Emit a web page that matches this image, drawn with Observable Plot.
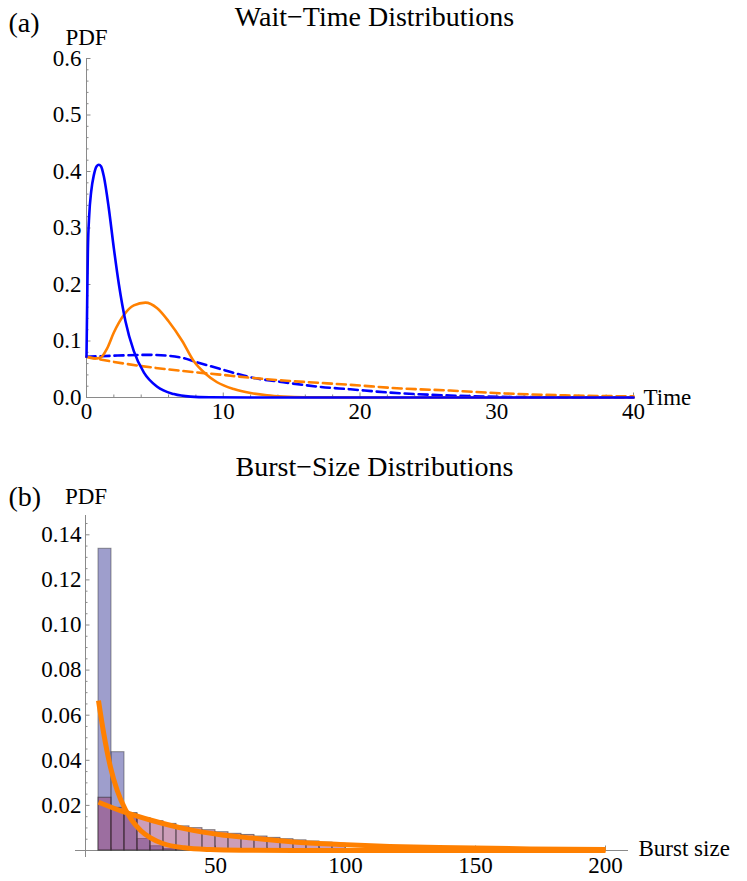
<!DOCTYPE html>
<html><head><meta charset="utf-8">
<script src="https://cdn.jsdelivr.net/npm/d3@7"></script>
<script src="https://cdn.jsdelivr.net/npm/@observablehq/plot@0.6"></script>
<style>
body{margin:0;background:#fff;}
#wrap{width:747px;}
#wrap svg{display:block;}
</style></head><body><div id="wrap"></div>
<script>
// ---------- Panel (a): wait-time distributions ----------
const blueSolidT = [0, 0.05, 0.1, 0.2, 0.34, 0.54, 0.73, 0.9, 1.07, 1.27, 1.63, 2.0, 2.37, 2.85, 3.46, 4.2, 5.17, 6.39, 7.6, 9, 12, 20, 40];
const blueSolidV = [0.072, 0.17, 0.259, 0.323, 0.364, 0.394, 0.409, 0.412, 0.409, 0.391, 0.335, 0.264, 0.2, 0.135, 0.082, 0.044, 0.019, 0.006, 0.0015, 0.0004, 0, 0, 0];

const orangeSolidT = [0, 0.54, 1.02, 1.51, 2.0, 2.73, 3.46, 4.31, 5.17, 6.0, 7.0, 7.85, 8.7, 9.55, 10.77, 12, 13.2, 14.4, 16, 20, 40];
const orangeSolidV = [0.072, 0.069, 0.0705, 0.087, 0.115, 0.146, 0.163, 0.168, 0.158, 0.135, 0.1, 0.064, 0.042, 0.027, 0.015, 0.008, 0.004, 0.0018, 0.0005, 0, 0];

const blueDashT = [0, 2.0, 4.68, 6.87, 8.09, 10, 12, 14.4, 17, 19.3, 22, 26.6, 30.3, 35, 40];
const blueDashV = [0.072, 0.074, 0.0755, 0.071, 0.0623, 0.049, 0.0358, 0.027, 0.019, 0.0145, 0.009, 0.0035, 0.0012, 0.0003, 0];

const orangeDashT = [0, 2.0, 4.68, 7.0, 9.55, 12, 14.4, 17, 19.3, 23, 26.6, 30.3, 35, 40];
const orangeDashV = [0.072, 0.063, 0.0535, 0.047, 0.041, 0.035, 0.030, 0.026, 0.0224, 0.016, 0.0123, 0.0075, 0.0038, 0.002];

const topXTicks = [0, 10, 20, 30, 40];
const topYTicks = [0, 0.1, 0.2, 0.3, 0.4, 0.5, 0.6];

// ---------- Panel (b): burst-size distributions ----------
const binStart = [5, 10, 15, 20, 25, 30, 35, 40, 45, 50, 55, 60, 65, 70, 75, 80, 85, 90, 95];
const blueHist = [0.1338, 0.0436, 0.0166, 0.0051, 0.0019, 0.0007, 0.0003];
const pinkHist = [0.0234, 0.0189, 0.0163, 0.0144, 0.0130, 0.0118, 0.0107, 0.0099, 0.0090, 0.0081, 0.0074, 0.0069, 0.0062, 0.0056, 0.0050, 0.0045, 0.0040, 0.0035, 0.0030];
const binWidth = 5;

const fitSteepB = [5, 7, 9.6, 12.2, 15.4, 17.9, 21.2, 25, 30, 38, 48, 60, 80, 120, 200];
const fitSteepV = [0.0665, 0.052, 0.037, 0.0266, 0.0180, 0.0133, 0.0089, 0.0056, 0.003, 0.0012, 0.0004, 0.0001, 0, 0, 0];

const fitSlowB = [5, 15, 25.6, 38.5, 51.3, 64, 80, 98, 117, 136, 171, 200];
const fitSlowV = [0.0214, 0.017, 0.0133, 0.0096, 0.0071, 0.0055, 0.0038, 0.0027, 0.0018, 0.0013, 0.0007, 0.0004];

const botXTicks = [50, 100, 150, 200];
const botYTicks = [0.02, 0.04, 0.06, 0.08, 0.10, 0.12, 0.14];

// ---------- helpers ----------
const zip = (xs, ys, kx, ky) => xs.map((x, i) => ({[kx]: x, [ky]: ys[i]}));
const FONT = "Liberation Serif, Times New Roman, serif";
const AX = "#8a8a8a";
const W = 747;
const ORANGE = "#ff8000", BLUE = "#0000ff";
const LBL = 23, TTL = 28, TAG = 28;

// ---------- Plot (a) ----------
{
  const H = 435, mL = 86, mR = 114, mT = 58, mB = 38;
  const fw = W - mL - mR, fh = H - mT - mB;
  const xMinor = d3.range(2, 40, 2).filter(d => d % 10 !== 0);
  const yMinor = d3.range(1, 30).map(i => i * 0.02).filter((d, i) => (i + 1) % 5 !== 0);
  const tk = (len) => ({insetTop: fh - len});
  const tkY = (len) => ({insetRight: fw - len});
  const txt = {fontFamily: FONT, fill: "black", lineAnchor: "middle"};
  const p = Plot.plot({
    width: W, height: H, marginLeft: mL, marginRight: mR, marginTop: mT, marginBottom: mB,
    x: {domain: [0, 40], axis: null},
    y: {domain: [0, 0.6], axis: null},
    style: {background: "white", overflow: "visible", fontFamily: FONT},
    marks: [
      Plot.ruleY([0], {stroke: AX, strokeWidth: 1}),
      Plot.ruleX([0], {stroke: AX, strokeWidth: 1}),
      Plot.tickX(xMinor, {x: d => d, stroke: AX, ...tk(2.5)}),
      Plot.tickX(topXTicks.slice(1), {x: d => d, stroke: AX, ...tk(4.5)}),
      Plot.tickY(yMinor, {y: d => d, stroke: AX, ...tkY(2.5)}),
      Plot.tickY(topYTicks.slice(1), {y: d => d, stroke: AX, ...tkY(4.5)}),
      Plot.line(zip(blueDashT, blueDashV, "t", "v"), {x: "t", y: "v", stroke: BLUE, strokeWidth: 2.6, strokeDasharray: "9,5", curve: "monotone-x"}),
      Plot.line(zip(orangeDashT, orangeDashV, "t", "v"), {x: "t", y: "v", stroke: ORANGE, strokeWidth: 2.6, strokeDasharray: "9,5", curve: "monotone-x"}),
      Plot.line(zip(orangeSolidT, orangeSolidV, "t", "v"), {x: "t", y: "v", stroke: ORANGE, strokeWidth: 2.6, curve: "monotone-x"}),
      Plot.line(zip(blueSolidT, blueSolidV, "t", "v"), {x: "t", y: "v", stroke: BLUE, strokeWidth: 2.6, curve: "monotone-x"}),
      Plot.text(topYTicks, {x: 0, y: d => d, text: d => d.toFixed(1), textAnchor: "end", dx: -5, fontSize: LBL, ...txt}),
      Plot.text(topXTicks, {x: d => d, y: 0, text: d => String(d), dy: 14, fontSize: LBL, ...txt}),
      Plot.text(["Time"], {frameAnchor: "bottom-right", text: d => d, textAnchor: "start", dx: 10, fontSize: LBL, ...txt}),
      Plot.text(["PDF"], {frameAnchor: "top-left", text: d => d, textAnchor: "middle", dy: -21, fontSize: LBL, ...txt}),
      Plot.text(["Wait\u2212Time Distributions"], {frameAnchor: "top-left", text: d => d, textAnchor: "middle", dx: 288, dy: -41, fontSize: TTL, ...txt}),
      Plot.text(["(a)"], {frameAnchor: "top-left", text: d => d, textAnchor: "start", dx: -78, dy: -35, fontSize: TAG, ...txt})
    ]
  });
  document.getElementById("wrap").appendChild(p);
}

// ---------- Plot (b) ----------
{
  const H = 446, mL = 75, mR = 119, mT = 80, mB = 24;
  const fw = W - mL - mR, fh = H - mT - mB;
  const pxPerX = 2.6, pxPerY = 2255;
  const x0 = -10 / pxPerX, x1 = (W - mR - mL - 10) / pxPerX;
  const y0 = -(fh - 335) / pxPerY, y1 = 335 / pxPerY;
  const offY = fh - 335, offX = 10;
  const xMinor = d3.range(10, 210, 10).filter(d => d % 50 !== 0);
  const yMinor = d3.range(1, 30).map(i => i * 0.005).filter((d, i) => (i + 1) % 4 !== 0);
  const tk = (len) => ({insetBottom: offY, insetTop: fh - offY - len});
  const tkY = (len) => ({insetLeft: offX, insetRight: fw - offX - len});
  const txt = {fontFamily: FONT, fill: "black", lineAnchor: "middle"};
  const blueBars = blueHist.map((v, i) => ({a: binStart[i], b: binStart[i] + binWidth, v}));
  const pinkBars = pinkHist.map((v, i) => ({a: binStart[i], b: binStart[i] + binWidth, v}));
  const p = Plot.plot({
    width: W, height: H, marginLeft: mL, marginRight: mR, marginTop: mT, marginBottom: mB,
    x: {domain: [x0, x1], axis: null},
    y: {domain: [y0, y1], axis: null},
    style: {background: "white", overflow: "visible", fontFamily: FONT},
    marks: [
      Plot.ruleY([0], {stroke: AX, strokeWidth: 1}),
      Plot.ruleX([0], {stroke: AX, strokeWidth: 1}),
      Plot.tickX(xMinor, {x: d => d, stroke: AX, ...tk(2.5)}),
      Plot.tickX(botXTicks, {x: d => d, stroke: AX, ...tk(4.5)}),
      Plot.tickY(yMinor, {y: d => d, stroke: AX, ...tkY(2.5)}),
      Plot.tickY(botYTicks, {y: d => d, stroke: AX, ...tkY(4.5)}),
      Plot.rect(blueBars, {x1: "a", x2: "b", y1: 0, y2: "v", fill: "rgb(61,61,153)", fillOpacity: 0.5, stroke: "#333", strokeOpacity: 0.5, strokeWidth: 1}),
      Plot.rect(pinkBars, {x1: "a", x2: "b", y1: 0, y2: "v", fill: "rgb(153,61,116)", fillOpacity: 0.5, stroke: "#222", strokeOpacity: 0.55, strokeWidth: 1}),
      Plot.line(zip(fitSlowB, fitSlowV, "b", "v"), {x: "b", y: "v", stroke: ORANGE, strokeWidth: 5, curve: "monotone-x", strokeLinecap: "butt"}),
      Plot.line(zip(fitSteepB, fitSteepV, "b", "v"), {x: "b", y: "v", stroke: ORANGE, strokeWidth: 5, curve: "monotone-x", strokeLinecap: "butt"}),
      Plot.text(botYTicks, {x: 0, y: d => d, text: d => d.toFixed(2), textAnchor: "end", dx: -4, fontSize: LBL, ...txt}),
      Plot.text(botXTicks, {x: d => d, y: 0, text: d => String(d), dy: 15, fontSize: LBL, ...txt}),
      Plot.text(["Burst size"], {frameAnchor: "bottom-right", text: d => d, textAnchor: "start", dx: 10, dy: -9, fontSize: LBL, ...txt}),
      Plot.text(["PDF"], {frameAnchor: "top-left", text: d => d, textAnchor: "middle", dx: 10.5, dy: -19, fontSize: LBL, ...txt}),
      Plot.text(["Burst\u2212Size Distributions"], {frameAnchor: "top-left", text: d => d, textAnchor: "middle", dx: 299, dy: -48, fontSize: TTL, ...txt}),
      Plot.text(["(b)"], {frameAnchor: "top-left", text: d => d, textAnchor: "start", dx: -67, dy: -18, fontSize: TAG, ...txt})
    ]
  });
  document.getElementById("wrap").appendChild(p);
}
</script>
</body></html>
